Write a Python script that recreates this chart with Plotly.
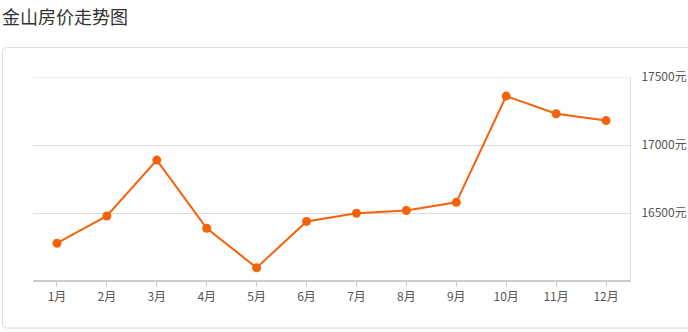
import plotly.graph_objects as go

months = ["1月", "2月", "3月", "4月", "5月", "6月", "7月", "8月", "9月", "10月", "11月", "12月"]
prices = [16280, 16480, 16890, 16390, 16100, 16440, 16500, 16520, 16580, 17360, 17230, 17180]
y_ticks = [16500, 17000, 17500]
y_tick_labels = ["16500元", "17000元", "17500元"]

W, H = 688, 332
L, R, T, B = 33, 630, 77, 280
pw, ph = R - L, B - T

def px(x):
    return (x - L) / pw

def py(y):
    return (B - y) / ph

fig = go.Figure()
fig.add_trace(go.Scatter(
    x=list(range(len(months))), y=prices, mode="lines+markers",
    line=dict(color="#f4620c", width=2),
    marker=dict(color="#f4620c", size=9),
    hoverinfo="skip", showlegend=False, cliponaxis=False,
))

# outer rounded box
x0, x1, y0, y1, r = 2.5, 692, 47.5, 328, 4
rx, ry = r / pw, r / ph
path = (f"M {px(x0)+rx},{py(y0)} L {px(x1)-rx},{py(y0)} Q {px(x1)},{py(y0)} {px(x1)},{py(y0)-ry} "
        f"L {px(x1)},{py(y1)+ry} Q {px(x1)},{py(y1)} {px(x1)-rx},{py(y1)} "
        f"L {px(x0)+rx},{py(y1)} Q {px(x0)},{py(y1)} {px(x0)},{py(y1)+ry} "
        f"L {px(x0)},{py(y0)-ry} Q {px(x0)},{py(y0)} {px(x0)+rx},{py(y0)} Z")
fig.add_shape(type="path", path=path, xref="paper", yref="paper",
              line=dict(color="#dcdcdc", width=1), layer="below")
# top gridline (plotly drops grid at range edge)
fig.add_shape(type="line", xref="paper", yref="y", x0=0, x1=1,
              y0=max(y_ticks), y1=max(y_ticks),
              line=dict(color="#dddddd", width=1), layer="below")

fig.update_layout(
    width=W, height=H,
    margin=dict(l=L, r=W - R, t=T, b=H - B, pad=0, autoexpand=False),
    paper_bgcolor="white", plot_bgcolor="white",
    font=dict(family="Microsoft YaHei, Noto Sans CJK SC, sans-serif", size=12, color="#666"),
    title=dict(text="金山房价走势图", x=0.003, xref="container", xanchor="left",
               y=1 - 18 / H, yref="container", yanchor="middle",
               font=dict(size=18, color="#333", family="Noto Sans CJK SC, sans-serif")),
    xaxis=dict(
        tickmode="array", tickvals=list(range(len(months))), ticktext=months,
        range=[-0.48, len(months) - 0.52], showgrid=False, zeroline=False,
        showline=True, linecolor="#cccccc", linewidth=2,
        ticks="outside", ticklen=5, tickcolor="#cccccc", tickwidth=1,
        tickfont=dict(size=12, color="#555"), fixedrange=True, automargin=False,
    ),
    yaxis=dict(
        side="right", range=[16010, 17500], tickmode="array",
        tickvals=y_ticks, ticktext=y_tick_labels,
        showgrid=True, gridcolor="#dddddd", gridwidth=1, zeroline=False,
        showline=True, linecolor="#dddddd", linewidth=1,
        ticks="outside", ticklen=8, tickcolor="rgba(0,0,0,0)",
        tickfont=dict(size=12, color="#555"), fixedrange=True, automargin=False,
    ),
)

fig.write_html("out.html")
